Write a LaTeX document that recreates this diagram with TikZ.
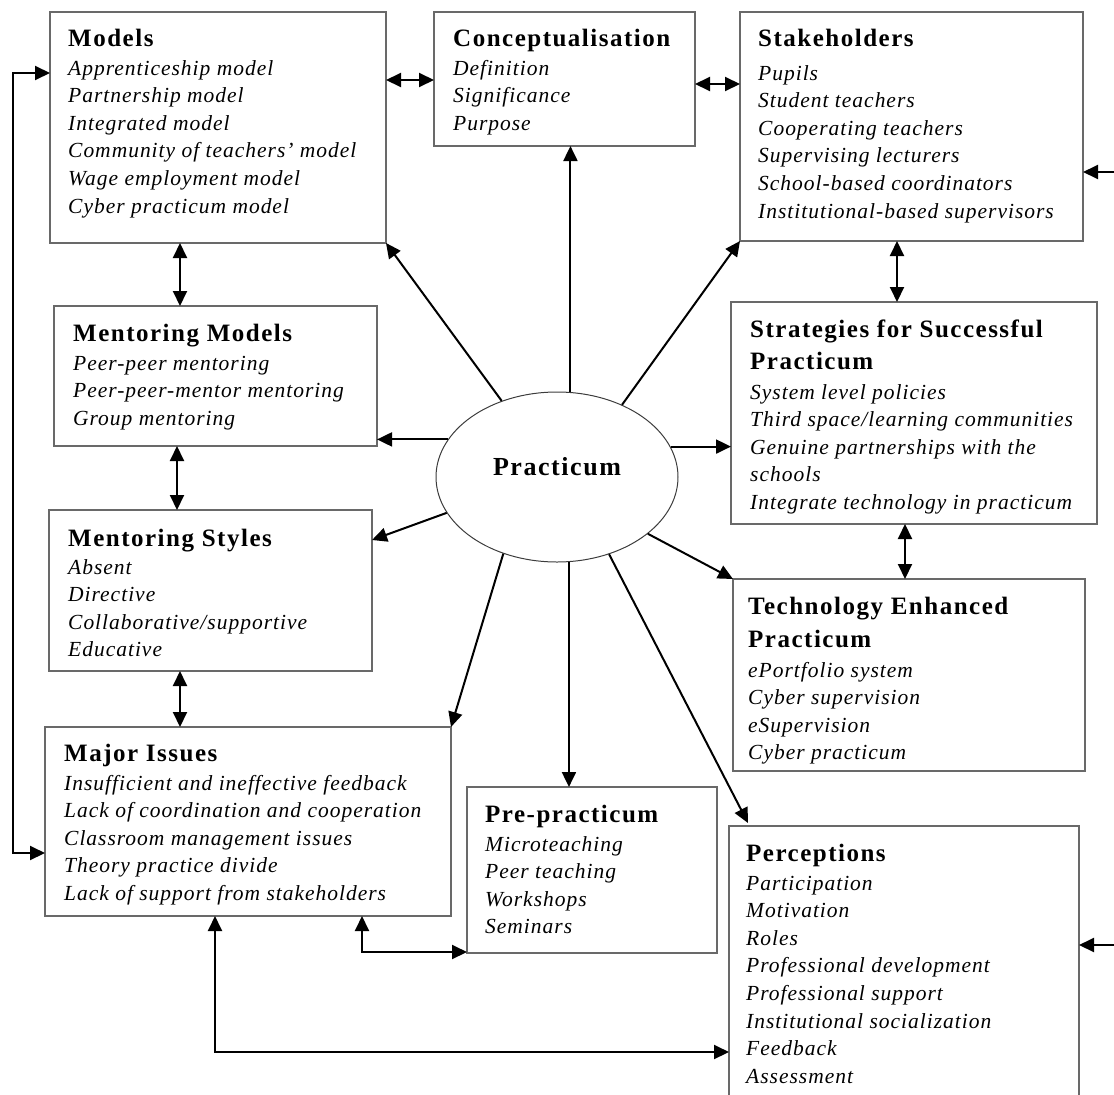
\documentclass[tikz,border=0pt]{standalone}
\usepackage{fontspec}
\setmainfont{Liberation Serif}
\newfontfamily\headfam[LetterSpace=6]{Liberation Serif}
\newfontfamily\listfam[LetterSpace=4.6]{Liberation Serif}
\usetikzlibrary{arrows.meta,shapes.geometric,calc}

\tikzset{
  boxframe/.style={draw={rgb,255:red,105;green,105;blue,105}, line width=1.5pt,
    inner sep=0pt, outer sep=0pt, anchor=north west},
  titletxt/.style={anchor=base west, inner sep=0pt, font=\headfam\fontsize{25}{30}\selectfont\bfseries},
  itemtxt/.style={anchor=base west, inner sep=0pt, font=\listfam\fontsize{21.5}{26}\selectfont\itshape},
  arr/.style={line width=2pt, -{Triangle[length=15pt,width=14pt]}},
  dbl/.style={line width=2pt, {Triangle[length=15pt,width=14pt]}-{Triangle[length=15pt,width=14pt]}}
}

% list of item lines: prefix, x, first baseline, items
\newcommand{\boxitems}[4]{%
  \foreach \t [count=\i] in {#4}
    \node[itemtxt] (#1-\i) at (#2,{#3+27.6*(\i-1)}) {\t};}

\begin{document}
\begin{tikzpicture}[x=1pt,y=-1pt]
\useasboundingbox (0,0) rectangle (1114,1095);

% ---------- boxes ----------
\node[boxframe, minimum width=336pt, minimum height=231pt] (models)  at (50,12)  {};
\node[boxframe, minimum width=261pt, minimum height=134pt] (concept) at (434,12) {};
\node[boxframe, minimum width=343pt, minimum height=229pt] (stake)   at (740,12) {};
\node[boxframe, minimum width=323pt, minimum height=140pt] (mentmod) at (54,306) {};
\node[boxframe, minimum width=366pt, minimum height=222pt] (strat)   at (731,302) {};
\node[boxframe, minimum width=323pt, minimum height=161pt] (mentsty) at (49,510) {};
\node[boxframe, minimum width=352pt, minimum height=192pt] (tech)    at (733,579) {};
\node[boxframe, minimum width=406pt, minimum height=189pt] (major)   at (45,727) {};
\node[boxframe, minimum width=250pt, minimum height=166pt] (pre)     at (467,787) {};
\node[boxframe, minimum width=350pt, minimum height=290pt] (percep)  at (729,826) {};

% ---------- central ellipse ----------
\node[ellipse, draw={rgb,255:red,60;green,60;blue,60}, line width=1pt,
      minimum width=242pt, minimum height=170pt, inner sep=0pt] (prac) at (557,477) {};
\node[inner sep=0pt, font=\headfam\fontsize{26}{30}\selectfont\bfseries] (prac-label) at (557,467) {Practicum};

% ---------- box texts ----------
\node[titletxt] (models-t) at (68,46) {Models};
\boxitems{models}{68}{75}{Apprenticeship model,Partnership model,Integrated model,Community of teachers’ model,Wage employment model,Cyber practicum model}

\node[titletxt] (concept-t) at (453,46) {Conceptualisation};
\boxitems{concept}{453}{75}{Definition,Significance,Purpose}

\node[titletxt] (stake-t) at (758,46) {Stakeholders};
\boxitems{stake}{758}{80}{Pupils,Student teachers,Cooperating teachers,Supervising lecturers,School-based coordinators,Institutional-based supervisors}

\node[titletxt] (mentmod-t) at (73,341) {Mentoring Models};
\boxitems{mentmod}{73}{370}{Peer-peer mentoring,Peer-peer-mentor mentoring,Group mentoring}

\node[titletxt] (strat-t1) at (750,337) {Strategies for Successful};
\node[titletxt] (strat-t2) at (750,369) {Practicum};
\boxitems{strat}{750}{399}{System level policies,Third space/learning communities,Genuine partnerships with the,schools,Integrate technology in practicum}

\node[titletxt] (mentsty-t) at (68,546) {Mentoring Styles};
\boxitems{mentsty}{68}{574}{Absent,Directive,Collaborative/supportive,Educative}

\node[titletxt] (tech-t1) at (748,614) {Technology Enhanced};
\node[titletxt] (tech-t2) at (748,647) {Practicum};
\boxitems{tech}{748}{677}{ePortfolio system,Cyber supervision,eSupervision,Cyber practicum}

\node[titletxt] (major-t) at (64,761) {Major Issues};
\boxitems{major}{64}{790}{Insufficient and ineffective feedback,Lack of coordination and cooperation,Classroom management issues,Theory practice divide,Lack of support from stakeholders}

\node[titletxt] (pre-t) at (485,822) {Pre-practicum};
\boxitems{pre}{485}{851}{Microteaching,Peer teaching,Workshops,Seminars}

\node[titletxt] (percep-t) at (746,861) {Perceptions};
\boxitems{percep}{746}{890}{Participation,Motivation,Roles,Professional development,Professional support,Institutional socialization,Feedback,Assessment}

% ---------- radial arrows from the centre ----------
\coordinate (mentsty-in) at (372,540);
\coordinate (percep-in) at (748,823);
\draw[arr] (prac.126.5) -- (models.south east);
\draw[arr] (prac.81) -- (prac.81 |- concept.south);
\draw[arr] (prac.48) -- (stake.south west);
\draw[arr] (prac.161) -- (mentmod.east |- prac.161);
\draw[arr] (prac.15) -- (strat.west |- prac.15);
\draw[arr] (prac.198) -- (mentsty-in);
\draw[arr] (prac.235.6) -- (major.north east);
\draw[arr] (prac.278) -- (prac.278 |- pre.north);
\draw[arr] (prac.304) -- (percep-in);
\draw[arr] (prac.328) -- (tech.north west);

% ---------- links between boxes ----------
\coordinate (mc) at (0,80);
\coordinate (cs) at (0,84);
\draw[dbl] (models.east |- mc) -- (concept.west |- mc);
\draw[dbl] (concept.east |- cs) -- (stake.west |- cs);

\coordinate (v1) at (180,0);
\coordinate (v2) at (177,0);
\coordinate (v3) at (897,0);
\coordinate (v4) at (905,0);
\draw[dbl] (models.south -| v1) -- (mentmod.north -| v1);
\draw[dbl] (mentmod.south -| v2) -- (mentsty.north -| v2);
\draw[dbl] (mentsty.south -| v1) -- (major.north -| v1);
\draw[dbl] (stake.south -| v3) -- (strat.north -| v3);
\draw[dbl] (strat.south -| v4) -- (tech.north -| v4);

% loop on the left between Models and Major Issues
\coordinate (lt) at (13,73);
\coordinate (lb) at (13,853);
\draw[dbl] (models.west |- lt) -- (lt) -- (lb) -- (major.west |- lb);

% Major Issues to Pre-practicum and Perceptions
\coordinate (b1) at (362,952);
\coordinate (b2) at (215,1052);
\draw[dbl] (major.south -| b1) -- (b1) -- (pre.west |- b1);
\draw[dbl] (major.south -| b2) -- (b2) -- (percep.west |- b2);

% incoming links on the right edge
\coordinate (rs1) at (1114,172);
\coordinate (rs2) at (1114,945);
\draw[arr] (rs1) -- (stake.east |- rs1);
\draw[arr] (rs2) -- (percep.east |- rs2);

\end{tikzpicture}
\end{document}
